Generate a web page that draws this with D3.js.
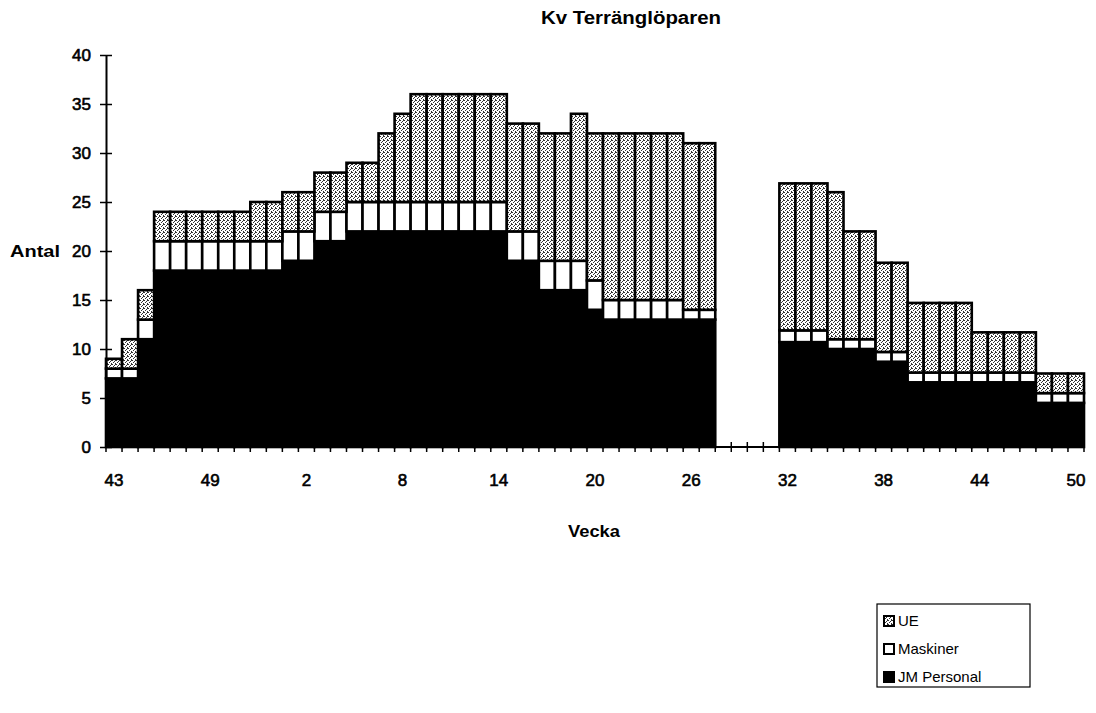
<!DOCTYPE html>
<html>
<head>
<meta charset="utf-8">
<script src="https://cdn.jsdelivr.net/npm/d3@7"></script>
<style>
  body { margin: 0; background: #fff; }
  svg { display: block; font-family: "Liberation Sans", Arial, Helvetica, sans-serif; }
</style>
</head>
<body>
<svg width="1096" height="713"></svg>
<script>
// weeks 43..53, then 1..50 of the next year
var weeks = [43, 44, 45, 46, 47, 48, 49, 50, 51, 52, 53,
  1, 2, 3, 4, 5, 6, 7, 8, 9, 10, 11, 12, 13, 14, 15, 16, 17, 18, 19, 20,
  21, 22, 23, 24, 25, 26, 27, 28, 29, 30, 31, 32, 33, 34, 35, 36, 37, 38, 39, 40,
  41, 42, 43, 44, 45, 46, 47, 48, 49, 50];

var jmPersonal = [7, 7, 11, 18, 18, 18, 18, 18, 18, 18, 18,
  19, 19, 21, 21, 22, 22, 22, 22, 22, 22, 22, 22, 22, 22, 19, 19, 16, 16, 16, 14,
  13, 13, 13, 13, 13, 13, 13, 0, 0, 0, 0, 10.7, 10.7, 10.7, 10, 10, 10, 8.7, 8.7, 6.6,
  6.6, 6.6, 6.6, 6.6, 6.6, 6.6, 6.6, 4.5, 4.5, 4.5];

var maskiner = [1, 1, 2, 3, 3, 3, 3, 3, 3, 3, 3,
  3, 3, 3, 3, 3, 3, 3, 3, 3, 3, 3, 3, 3, 3, 3, 3, 3, 3, 3, 3,
  2, 2, 2, 2, 2, 1, 1, 0, 0, 0, 0, 1.2, 1.2, 1.2, 1, 1, 1, 1, 1, 1,
  1, 1, 1, 1, 1, 1, 1, 1, 1, 1];

var ue = [1, 3, 3, 3, 3, 3, 3, 3, 3, 4, 4,
  4, 4, 4, 4, 4, 4, 7, 9, 11, 11, 11, 11, 11, 11, 11, 11, 13, 13, 15, 15,
  17, 17, 17, 17, 17, 17, 17, 0, 0, 0, 0, 15, 15, 15, 15, 11, 11, 9.1, 9.1, 7.1,
  7.1, 7.1, 7.1, 4.1, 4.1, 4.1, 4.1, 2, 2, 2];

var yTicks = [0, 5, 10, 15, 20, 25, 30, 35, 40];
var keys = ["jm", "maskiner", "ue"];
var legendLabels = ["UE", "Maskiner", "JM Personal"];

var svg = d3.select("svg");

var table = weeks.map(function(w, i) {
  return { i: i, week: w, jm: jmPersonal[i], maskiner: maskiner[i], ue: ue[i] };
});

var x = d3.scaleBand()
    .domain(d3.range(weeks.length))
    .range([106, 1084])
    .padding(0);

var y = d3.scaleLinear()
    .domain([0, 40])
    .range([447, 55]);

// stipple pattern for UE
var defs = svg.append("defs");
var pat = defs.append("pattern")
    .attr("id", "dots")
    .attr("patternUnits", "userSpaceOnUse")
    .attr("width", 4)
    .attr("height", 4);
pat.append("rect").attr("width", 4).attr("height", 4).attr("fill", "#fff");
[[0, 0], [2, 1], [1, 2], [3, 3], [3, 0]].forEach(function(p) {
  pat.append("rect").attr("x", p[0]).attr("y", p[1])
      .attr("width", 1).attr("height", 1).attr("fill", "#333");
});

var fills = { jm: "#000", maskiner: "#fff", ue: "url(#dots)" };

// title
svg.append("text")
    .attr("x", 631)
    .attr("y", 24)
    .attr("text-anchor", "middle")
    .attr("font-size", 18)
    .attr("font-weight", "bold")
    .attr("textLength", 180)
    .attr("lengthAdjust", "spacingAndGlyphs")
    .text("Kv Terränglöparen");

// x axis line and boundary ticks
svg.append("line")
    .attr("x1", x.range()[0]).attr("x2", x.range()[1])
    .attr("y1", y(0)).attr("y2", y(0))
    .attr("stroke", "#000").attr("stroke-width", 2);

svg.append("g")
  .selectAll("line")
  .data(d3.range(weeks.length + 1))
  .enter().append("line")
    .attr("x1", function(d) { return x.range()[0] + d * x.step(); })
    .attr("x2", function(d) { return x.range()[0] + d * x.step(); })
    .attr("y1", y(0) - 5)
    .attr("y2", y(0) + 5)
    .attr("stroke", "#000")
    .attr("stroke-width", 1.5);

// stacked bars
var stack = d3.stack().keys(keys)(table);

svg.append("g")
  .selectAll("g")
  .data(stack)
  .enter().append("g")
    .attr("fill", function(s) { return fills[s.key]; })
  .selectAll("rect")
  .data(function(s) { return s.filter(function(d) { return d[1] > d[0]; }); })
  .enter().append("rect")
    .attr("x", function(d) { return x(d.data.i); })
    .attr("width", x.bandwidth())
    .attr("y", function(d) { return y(d[1]); })
    .attr("height", function(d) { return y(d[0]) - y(d[1]); })
    .attr("stroke", "#000")
    .attr("stroke-width", 2.6);

// x tick labels
var xAxis = d3.axisBottom(x)
    .tickValues(d3.range(0, weeks.length, 6))
    .tickFormat(function(i) { return weeks[i]; })
    .tickSize(0)
    .tickPadding(0);

var gx = svg.append("g")
    .attr("transform", "translate(0," + (y(0) + 27) + ")")
    .call(xAxis);
gx.select(".domain").remove();
gx.selectAll("text")
    .attr("font-size", 17)
    .attr("font-family", "Liberation Sans, Arial, sans-serif")
    .attr("fill", "#000")
    .attr("stroke", "#000")
    .attr("stroke-width", 0.6);

// y axis
var yAxis = d3.axisLeft(y)
    .tickValues(yTicks)
    .tickSizeOuter(0)
    .tickSizeInner(6)
    .tickPadding(9);

var gy = svg.append("g")
    .attr("transform", "translate(106,0)")
    .call(yAxis);
gy.select(".domain").attr("stroke-width", 2);
gy.selectAll(".tick line").attr("x1", 6).attr("x2", -6).attr("stroke-width", 1.5);
gy.selectAll("text")
    .attr("font-size", 17)
    .attr("font-family", "Liberation Sans, Arial, sans-serif")
    .attr("fill", "#000")
    .attr("stroke", "#000")
    .attr("stroke-width", 0.6);

// axis titles
svg.append("text")
    .attr("x", 10)
    .attr("y", y(20) + 6)
    .attr("font-size", 17)
    .attr("font-weight", "bold")
    .attr("textLength", 50)
    .attr("lengthAdjust", "spacingAndGlyphs")
    .text("Antal");

svg.append("text")
    .attr("x", 594)
    .attr("y", 537)
    .attr("text-anchor", "middle")
    .attr("font-size", 17)
    .attr("font-weight", "bold")
    .attr("textLength", 52)
    .attr("lengthAdjust", "spacingAndGlyphs")
    .text("Vecka");

// legend
var legend = svg.append("g").attr("transform", "translate(877,604)");
legend.append("rect")
    .attr("width", 153).attr("height", 83)
    .attr("fill", "#fff").attr("stroke", "#000").attr("stroke-width", 1.2);

var legendKeys = ["ue", "maskiner", "jm"];
var item = legend.selectAll(".item")
  .data(legendKeys)
  .enter().append("g")
    .attr("class", "item")
    .attr("transform", function(d, i) { return "translate(7," + (12 + i * 28) + ")"; });

item.append("rect")
    .attr("width", 10).attr("height", 10)
    .attr("fill", function(d) { return fills[d]; })
    .attr("stroke", "#000").attr("stroke-width", 2);

item.append("text")
    .attr("x", 14)
    .attr("y", 10)
    .attr("font-size", 15)
    .text(function(d, i) { return legendLabels[i]; });
</script>
</body>
</html>
